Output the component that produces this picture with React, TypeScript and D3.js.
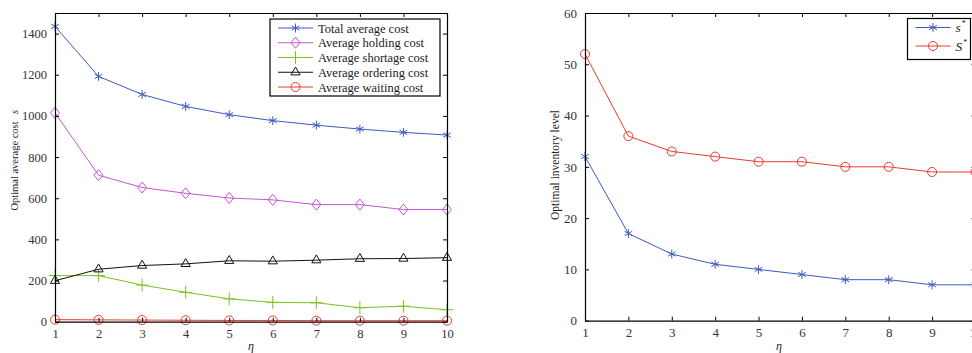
import { useEffect, useRef } from "react";
import * as d3 from "d3";

const W = 972;
const H = 353;
const font = "'Liberation Serif', 'Times New Roman', serif";

// shared x values (eta)
const eta = [1, 2, 3, 4, 5, 6, 7, 8, 9, 10];

// left panel series
const totalCost = [1435, 1192, 1104, 1046, 1006, 977, 955, 936, 920, 907];
const holdingCost = [1015, 712, 652, 624, 601, 592, 569, 569, 545, 545];
const shortageCost = [224, 224, 178, 143, 111, 94, 92, 68, 75, 58];
const orderingCost = [199, 255, 273, 281, 296, 294, 299, 306, 307, 311];
const waitingCost = [10, 9, 8, 7, 6, 6, 5, 5, 5, 5];
const leftNames = [
  "Total average cost",
  "Average holding cost",
  "Average shortage cost",
  "Average ordering cost",
  "Average waiting cost",
];
const leftYTicks = [0, 200, 400, 600, 800, 1000, 1200, 1400];

// right panel series
const sStar = [32, 17, 13, 11, 10, 9, 8, 8, 7, 7];
const SStar = [52, 36, 33, 32, 31, 31, 30, 30, 29, 29];
const rightYTicks = [0, 10, 20, 30, 40, 50, 60];

const blue = "#3d5bbf";
const magenta = "#c455d4";
const green = "#7cc21a";
const black = "#111";
const red = "#ec3b2e";

type Marker = "star" | "diamond" | "plus" | "triangle" | "circle";

const symbolPath = (m: Marker) => {
  if (m === "diamond") {
    // MATLAB-ish diamond: a bit taller than wide
    return "M0,-5.5L4.5,0L0,5.5L-4.5,0Z";
  }
  const type =
    m === "star"
      ? d3.symbolAsterisk
      : m === "plus"
      ? d3.symbolPlus
      : m === "triangle"
      ? d3.symbolTriangle2
      : d3.symbolCircle;
  const size = m === "triangle" ? 60 : m === "circle" ? 64 : 55;
  return d3.symbol(type, size)() as string;
};

type Series = { name: string; values: number[]; color: string; marker: Marker };

type PanelProps = {
  x0: number;
  x1: number;
  y0: number;
  y1: number;
  yMax: number;
  yTicks: number[];
  fontSize: number;
  series: Series[];
};

const Panel = ({ x0, x1, y0, y1, yMax, yTicks, fontSize, series }: PanelProps) => {
  const xAxisRef = useRef<SVGGElement>(null);
  const yAxisRef = useRef<SVGGElement>(null);
  const topRef = useRef<SVGGElement>(null);
  const rightRef = useRef<SVGGElement>(null);

  const xScale = d3.scaleLinear().domain([1, 10]).range([x0, x1]);
  const yScale = d3.scaleLinear().domain([0, yMax]).range([y0, y1]);

  useEffect(() => {
    const style = (g: d3.Selection<SVGGElement, unknown, null, undefined>) => {
      g.attr("font-family", null).style("font-family", font);
      g.selectAll("path.domain").attr("stroke", "#000").attr("stroke-width", 1.2);
      g.selectAll(".tick line").attr("stroke", "#000");
      g.selectAll("text")
        .style("font-family", font)
        .attr("font-size", fontSize)
        .attr("fill", "#333");
    };
    if (xAxisRef.current) {
      const g = d3.select(xAxisRef.current);
      g.call(
        d3
          .axisBottom(xScale)
          .tickValues(eta)
          .tickFormat(d3.format("d"))
          .tickSizeInner(-4)
          .tickSizeOuter(0)
          .tickPadding(7)
      );
      style(g);
    }
    if (yAxisRef.current) {
      const g = d3.select(yAxisRef.current);
      g.call(
        d3
          .axisLeft(yScale)
          .tickValues(yTicks)
          .tickFormat(d3.format("d"))
          .tickSizeInner(-4)
          .tickSizeOuter(0)
          .tickPadding(8)
      );
      style(g);
    }
    if (topRef.current) {
      const g = d3.select(topRef.current);
      g.call(d3.axisTop(xScale).tickValues(eta).tickSizeInner(-4).tickSizeOuter(0).tickFormat(() => ""));
      style(g);
    }
    if (rightRef.current) {
      const g = d3.select(rightRef.current);
      g.call(d3.axisRight(yScale).tickValues(yTicks).tickSizeInner(-4).tickSizeOuter(0).tickFormat(() => ""));
      style(g);
    }
  }, [x0, x1, y0, y1, yMax, fontSize]);

  const line = d3
    .line<number>()
    .x((_, i) => xScale(eta[i]))
    .y((d) => yScale(d));

  return (
    <g>
      {series.map((s) => (
        <g key={s.name}>
          <path d={line(s.values) as string} fill="none" stroke={s.color} strokeWidth={1} />
          {s.values.map((v, i) => (
            <path
              key={i}
              d={symbolPath(s.marker)}
              transform={`translate(${xScale(eta[i])},${yScale(v)})`}
              fill="none"
              stroke={s.color}
              strokeWidth={1}
            />
          ))}
        </g>
      ))}
      <g ref={xAxisRef} transform={`translate(0,${y0})`} />
      <g ref={yAxisRef} transform={`translate(${x0},0)`} />
      <g ref={topRef} transform={`translate(0,${y1})`} />
      <g ref={rightRef} transform={`translate(${x1},0)`} />
    </g>
  );
};

const Legend = ({
  x,
  y,
  w,
  h,
  rowH,
  fontSize,
  items,
  labels,
}: {
  x: number;
  y: number;
  w: number;
  h: number;
  rowH: number;
  fontSize: number;
  items: Series[];
  labels: (s: Series) => any;
}) => (
  <g>
    <rect x={x} y={y} width={w} height={h} fill="#fff" stroke="#000" strokeWidth={1.2} />
    {items.map((s, i) => {
      const cy = y + 9 + i * rowH;
      return (
        <g key={s.name}>
          <line x1={x + 8} x2={x + 43} y1={cy} y2={cy} stroke={s.color} strokeWidth={1} />
          <path
            d={symbolPath(s.marker)}
            transform={`translate(${x + 25.5},${cy})`}
            fill="none"
            stroke={s.color}
          />
          <text x={x + 48} y={cy + 4.5} fontFamily={font} fontSize={fontSize} fill="#222">
            {labels(s)}
          </text>
        </g>
      );
    })}
  </g>
);

const App = () => {
  const leftSeries: Series[] = [
    { name: leftNames[0], values: totalCost, color: blue, marker: "star" },
    { name: leftNames[1], values: holdingCost, color: magenta, marker: "diamond" },
    { name: leftNames[2], values: shortageCost, color: green, marker: "plus" },
    { name: leftNames[3], values: orderingCost, color: black, marker: "triangle" },
    { name: leftNames[4], values: waitingCost, color: red, marker: "circle" },
  ];
  const rightSeries: Series[] = [
    { name: "s*", values: sStar, color: blue, marker: "star" },
    { name: "S*", values: SStar, color: red, marker: "circle" },
  ];

  return (
    <svg
      width={W}
      height={H}
      fontFamily={font}
      style={{ position: "absolute", left: 0, top: 0, background: "#fff" }}
    >
      <rect width={W} height={H} fill="#fff" />
      <Panel x0={55} x1={447} y0={321.7} y1={13} yMax={1500} yTicks={leftYTicks} fontSize={12.5} series={leftSeries} />
      <Panel x0={585} x1={975.5} y0={320.7} y1={13} yMax={60} yTicks={rightYTicks} fontSize={13} series={rightSeries} />

      <Legend
        x={270}
        y={19}
        w={170}
        h={77}
        rowH={14.75}
        fontSize={12.5}
        items={leftSeries}
        labels={(s) => s.name}
      />
      <Legend
        x={907.5}
        y={18.5}
        w={63}
        h={41}
        rowH={18.5}
        fontSize={13.5}
        items={rightSeries}
        labels={(s) => (
          <>
            <tspan fontStyle="italic">{s.name[0]}</tspan>
            <tspan dx={1} dy={-6} fontSize={8}>
              *
            </tspan>
          </>
        )}
      />

      {/* axis titles */}
      <text
        transform="translate(18,166) rotate(-90)"
        textAnchor="middle"
        fontFamily={font}
        fontSize={10.5}
        fill="#222"
      >
        Optimal average cost
      </text>
      <text
        transform="translate(18,112) rotate(-90)"
        textAnchor="middle"
        fontFamily={font}
        fontSize={10.5}
        fontStyle="italic"
        fill="#222"
      >
        s
      </text>
      <text
        transform="translate(559,165) rotate(-90)"
        textAnchor="middle"
        fontFamily={font}
        fontSize={11.5}
        fill="#222"
      >
        Optimal inventory level
      </text>
      <text x={251} y={350} textAnchor="middle" fontFamily={font} fontSize={12} fontStyle="italic" fill="#222">
        η
      </text>
      <text x={779} y={350} textAnchor="middle" fontFamily={font} fontSize={12} fontStyle="italic" fill="#222">
        η
      </text>
    </svg>
  );
};

export default App;
